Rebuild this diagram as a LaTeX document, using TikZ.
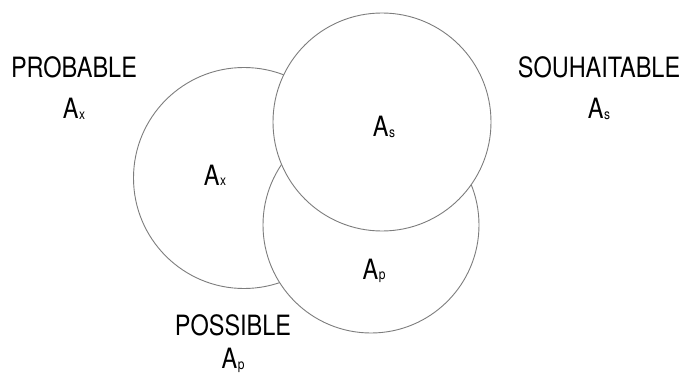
\documentclass[tikz,border=0pt]{standalone}
\usepackage{graphicx}
\usepackage{fontspec}
\setmainfont{TeX Gyre Heros}
\usetikzlibrary{positioning}
\definecolor{pline}{RGB}{125,125,125}
\newcommand{\tall}[1]{\scalebox{1}[1.19]{#1}}
\newcommand{\setA}[1]{\tall{A\kern0.6pt\raisebox{-0.8pt}{\fontsize{12}{12}\selectfont #1}}}
\tikzset{
  ring/.style={circle,draw=pline,line width=0.9pt,fill=white,inner sep=0pt},
  lbl/.style={inner sep=0pt,font=\fontsize{23.5}{28}\selectfont},
  ttl/.style={lbl,anchor=base},
}

\begin{document}
\begin{tikzpicture}[x=1pt,y=-1pt]
  \useasboundingbox (0,0) rectangle (685,377);
  % the three sets, back to front
  \node[ring,minimum size=221pt] (prob) at (244,178) {};
  \node[ring,minimum size=216pt] (poss) at (371,225) {};
  \node[ring,minimum size=218pt] (souh) at (382,122) {};
  \node[ttl] (probin) at (215,185) {\setA{x}};
  \node[ttl] (souhin) at (384,137) {\setA{s}};
  \node[ttl] (possin) at (374,279) {\setA{p}};
  % names outside
  \node[ttl] (probt) at (74,78) {\tall{PROBABLE}};
  \node[lbl,below=20pt of probt.base] (probs) {\setA{x}};
  \node[ttl] (souht) at (599,78) {\tall{SOUHAITABLE}};
  \node[lbl,below=20pt of souht.base] (souhs) {\setA{s}};
  \node[ttl] (posst) at (233,335) {\tall{POSSIBLE}};
  \node[lbl,below=13pt of posst.base] (posss) {\setA{p}};
\end{tikzpicture}
\end{document}
